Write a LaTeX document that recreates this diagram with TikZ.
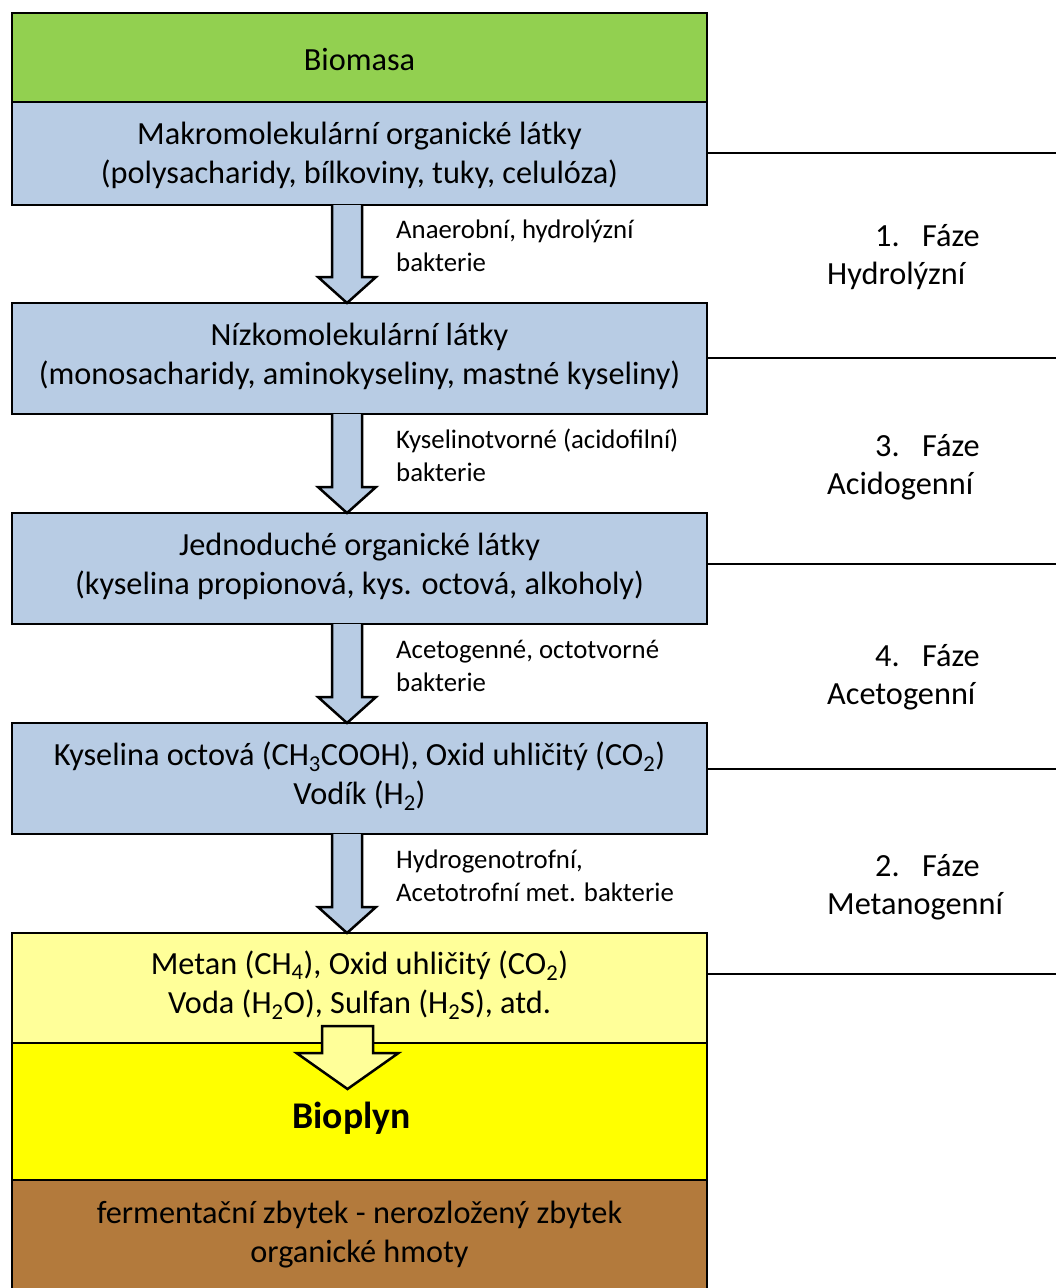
\documentclass[tikz,border=0pt]{standalone}
\usepackage{fontspec}
\setmainfont{Carlito}
\usetikzlibrary{calc}

\definecolor{biogreen}{RGB}{146,208,80}
\definecolor{boxblue}{RGB}{184,204,228}
\definecolor{paleyellow}{RGB}{255,255,153}
\definecolor{gasyellow}{RGB}{255,255,0}
\definecolor{residue}{RGB}{179,122,60}

% block arrow from the bottom of one layer to the top of the next
\newcommand\flowarrow[2]{%
  \draw[blockarrow]
    ($(#1.south -| ax)+(-15,0)$) -- ($(#2.north -| ax)+(-15,-26)$)
    -- ($(#2.north -| ax)+(-29,-26)$) -- (#2.north -| ax)
    -- ($(#2.north -| ax)+(29,-26)$) -- ($(#2.north -| ax)+(15,-26)$)
    -- ($(#1.south -| ax)+(15,0)$);}

\begin{document}
\begin{tikzpicture}[x=1pt,y=-1pt,
  layer/.style={draw=black, line width=2.5pt, rectangle, inner sep=0pt,
    outer sep=0pt, minimum width=695pt},
  main/.style={anchor=base, font=\fontsize{32.3}{38}\selectfont, inner sep=0pt},
  note/.style={anchor=base west, font=\fontsize{26.8}{32}\selectfont, inner sep=0pt},
  phase/.style={anchor=base west, font=\fontsize{32.3}{38}\selectfont, inner sep=0pt},
  blockarrow/.style={draw=black, line width=2.5pt, fill=boxblue, line join=miter},
  divider/.style={draw=black, line width=2.5pt}]

\path[use as bounding box] (0,0) rectangle (1056,1288);
\clip (0,0) rectangle (1056,1288);

% layers
\node[layer, fill=biogreen,   minimum height=89pt]  (bio) at (359.5,57.5) {};
\node[layer, fill=boxblue,    minimum height=103pt] (mak) at (359.5,153.5) {};
\node[layer, fill=boxblue,    minimum height=111pt] (niz) at (359.5,358.5) {};
\node[layer, fill=boxblue,    minimum height=111pt] (jed) at (359.5,568.5) {};
\node[layer, fill=boxblue,    minimum height=111pt] (kys) at (359.5,778.5) {};
\node[layer, fill=paleyellow, minimum height=110pt] (met) at (359.5,988) {};
\node[layer, fill=gasyellow,  minimum height=137pt] (gas) at (359.5,1111.5) {};
\node[layer, fill=residue,    minimum height=120pt] (fer) at (359.5,1240) {};

% arrow axis
\coordinate (ax) at (347,0);
\flowarrow{mak}{niz}
\flowarrow{niz}{jed}
\flowarrow{jed}{kys}
\flowarrow{kys}{met}

% arrow from the gas mixture to biogas
\coordinate (gt) at (347.5,1026);
\coordinate (gh) at (347.5,1089);
\draw[blockarrow, fill=paleyellow]
  ($(gt)+(-25.5,0)$) -- ($(gt)+(25.5,0)$) -- ($(gt)+(25.5,27)$)
  -- ($(gt)+(51,27)$) -- (gh) -- ($(gt)+(-51,27)$)
  -- ($(gt)+(-25.5,27)$) -- cycle;

% texts in the layers
\node[main] (tbio) at (359.5,70) {Biomasa};
\node[main] (tmak1) at (359.5,144) {Makromolekulární organické látky};
\node[main] (tmak2) at (359.5,183) {(polysacharidy, bílkoviny, tuky, celulóza)};
\node[main] (tniz1) at (359.5,345) {Nízkomolekulární látky};
\node[main] (tniz2) at (359.5,384) {(monosacharidy, aminokyseliny, mastné kyseliny)};
\node[main] (tjed1) at (359.5,555) {Jednoduché organické látky};
\node[main] (tjed2) at (359.5,594) {(kyselina propionová, kys. octová, alkoholy)};
\node[main] (tkys1) at (359.5,765) {Kyselina octová (CH\textsubscript{3}COOH), Oxid uhličitý (CO\textsubscript{2})};
\node[main] (tkys2) at (359.5,804) {Vodík (H\textsubscript{2})};
\node[main] (tmet1) at (359.5,974) {Metan (CH\textsubscript{4}), Oxid uhličitý (CO\textsubscript{2})};
\node[main] (tmet2) at (359.5,1013) {Voda (H\textsubscript{2}O), Sulfan (H\textsubscript{2}S), atd.};
\node[main, font=\fontsize{37.7}{44}\selectfont\bfseries] (tgas) at (351.5,1128) {Bioplyn};
\node[main] (tfer1) at (359.5,1223) {fermentační zbytek - nerozložený zbytek};
\node[main] (tfer2) at (359.5,1262) {organické hmoty};

% bacteria labels
\node[note] (b1a) at (396,238) {Anaerobní, hydrolýzní};
\node[note] (b1b) at (396,271) {bakterie};
\node[note] (b2a) at (396,448) {Kyselinotvorné (acidofilní)};
\node[note] (b2b) at (396,481) {bakterie};
\node[note] (b3a) at (396,658) {Acetogenné, octotvorné};
\node[note] (b3b) at (396,691) {bakterie};
\node[note] (b4a) at (396,868) {Hydrogenotrofní,};
\node[note] (b4b) at (396,901) {Acetotrofní met. bakterie};

% phase dividers
\coordinate (r1) at (1056,153);
\coordinate (r2) at (1056,358);
\coordinate (r3) at (1056,564);
\coordinate (r4) at (1056,769);
\coordinate (r5) at (1056,974);
\draw[divider] (r1 -| mak.east) -- (r1);
\draw[divider] (r2 -| niz.east) -- (r2);
\draw[divider] (r3 -| jed.east) -- (r3);
\draw[divider] (r4 -| kys.east) -- (r4);
\draw[divider] (r5 -| met.east) -- (r5);

% phase names
\node[phase] (p1a) at (875,246) {\makebox[47pt][l]{1.}Fáze};
\node[phase] (p1b) at (827,284) {Hydrolýzní};
\node[phase] (p3a) at (875,456) {\makebox[47pt][l]{3.}Fáze};
\node[phase] (p3b) at (827,494) {Acidogenní};
\node[phase] (p4a) at (875,666) {\makebox[47pt][l]{4.}Fáze};
\node[phase] (p4b) at (827,704) {Acetogenní};
\node[phase] (p2a) at (875,876) {\makebox[47pt][l]{2.}Fáze};
\node[phase] (p2b) at (827,914) {Metanogenní};
\end{tikzpicture}
\end{document}
